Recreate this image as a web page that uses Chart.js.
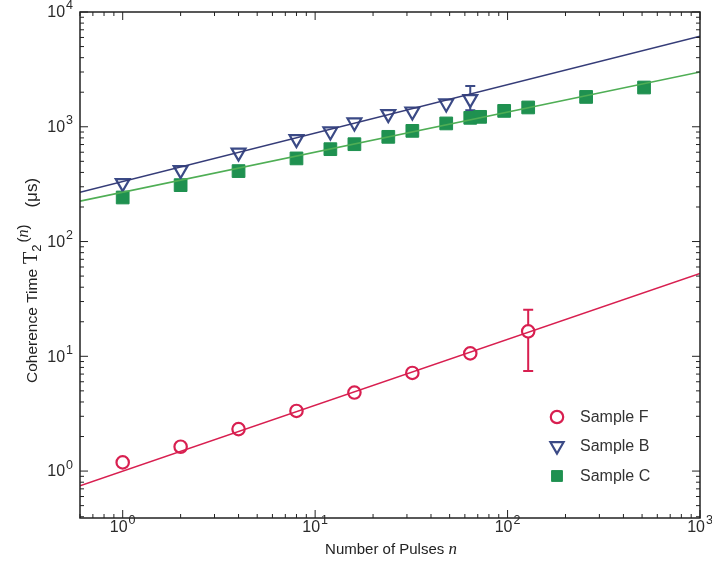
<!DOCTYPE html>
<html>
<head>
<meta charset="utf-8">
<script src="https://cdn.jsdelivr.net/npm/chart.js@4/dist/chart.umd.min.js"></script>
<style>
  html, body { margin: 0; padding: 0; background: #fff; }
  canvas { display: block; }
</style>
</head>
<body>
<canvas id="chart" width="712" height="575"></canvas>
<script>
// data
const pulsesF = [1, 2, 4, 8, 16, 32, 64, 128];
const timeF = [1.19, 1.63, 2.32, 3.34, 4.83, 7.16, 10.6, 16.5];
const errLowF = [null, null, null, null, null, null, null, 7.45];
const errHighF = [null, null, null, null, null, null, null, 25.5];

const pulsesB = [1, 2, 4, 8, 12, 16, 24, 32, 48, 64];
const timeB = [323, 419, 595, 780, 910, 1090, 1288, 1359, 1596, 1740];
const errLowB = [null, null, null, null, null, null, null, null, null, 1396];
const errHighB = [null, null, null, null, null, null, null, null, null, 2270];

const pulsesC = [1, 2, 4, 8, 12, 16, 24, 32, 48, 64, 72, 96, 128, 256, 512];
const timeC = [242, 310, 411, 530, 638, 705, 817, 921, 1069, 1196, 1220, 1375, 1473, 1820, 2198];

// fitted power laws (end points)
const fitPulses = [0.6, 1000];
const fitF = [0.745, 52.7];
const fitB = [269, 6150];
const fitC = [225, 3000];

const xRange = [0.6, 1000];
const yRange = [0.39, 10000];

const labels = ["Sample F", "Sample B", "Sample C"];

const red = "#d81f50";
const blue = "#3b4a86";
const blueLine = "#353c78";
const green = "#1f9150";
const greenLine = "#4fae55";

function pts(xs, ys) {
  return xs.map((x, i) => ({ x: x, y: ys[i] }));
}

const SANS = '"Liberation Sans", Arial, sans-serif';
const SERIF = '"Liberation Serif", "Times New Roman", serif';

// frame, inward ticks, tick labels and axis titles
const framePlugin = {
  id: "frame",
  afterDraw(chart) {
    const ctx = chart.ctx;
    const a = chart.chartArea;
    const xs = chart.scales.x, ys = chart.scales.y;
    ctx.save();
    ctx.strokeStyle = "#222";
    ctx.lineWidth = 1.5;
    ctx.strokeRect(a.left, a.top, a.right - a.left, a.bottom - a.top);

    ctx.lineWidth = 1;
    function eachTick(scale, cb) {
      for (let d = Math.floor(Math.log10(scale.min)); d <= Math.ceil(Math.log10(scale.max)); d++) {
        for (let m = 1; m <= 9; m++) {
          const v = m * Math.pow(10, d);
          if (v < scale.min * 0.999 || v > scale.max * 1.001) continue;
          cb(scale.getPixelForValue(v), m === 1, d);
        }
      }
    }
    ctx.beginPath();
    eachTick(xs, (p, major) => {
      const len = major ? 8 : 4;
      ctx.moveTo(p, a.bottom); ctx.lineTo(p, a.bottom - len);
      ctx.moveTo(p, a.top); ctx.lineTo(p, a.top + len);
    });
    eachTick(ys, (p, major) => {
      const len = major ? 8 : 4;
      ctx.moveTo(a.left, p); ctx.lineTo(a.left + len, p);
      ctx.moveTo(a.right, p); ctx.lineTo(a.right - len, p);
    });
    ctx.stroke();

    // tick labels 10^d
    ctx.fillStyle = "#2a2a2a";
    ctx.textBaseline = "middle";
    const base = "16px " + SANS, sup = "12.5px " + SANS;
    eachTick(ys, (p, major, d) => {
      if (!major) return;
      ctx.font = sup;
      const we = ctx.measureText(String(d)).width;
      ctx.font = base;
      ctx.textAlign = "right";
      ctx.fillText("10", 72 - we, p + 1);
      ctx.font = sup;
      ctx.textAlign = "left";
      ctx.fillText(String(d), 73 - we, p - 6);
    });
    eachTick(xs, (p, major, d) => {
      if (!major) return;
      ctx.font = base;
      const wb = ctx.measureText("10").width;
      ctx.font = sup;
      const we = ctx.measureText(String(d)).width;
      const x0 = p - (wb + we + 1) / 2;
      ctx.font = base;
      ctx.textAlign = "left";
      ctx.fillText("10", x0, 528);
      ctx.font = sup;
      ctx.fillText(String(d), x0 + wb + 1, 521);
    });

    // x title
    ctx.fillStyle = "#222";
    ctx.textBaseline = "alphabetic";
    ctx.textAlign = "left";
    const t1 = "Number of Pulses ";
    ctx.font = "15px " + SANS;
    const w1 = ctx.measureText(t1).width;
    ctx.font = "italic 17px " + SERIF;
    const w2 = ctx.measureText("n").width;
    let xx = 391 - (w1 + w2) / 2;
    ctx.font = "15px " + SANS;
    ctx.fillText(t1, xx, 554);
    ctx.font = "italic 17px " + SERIF;
    ctx.fillText("n", xx + w1, 554);

    // y title, drawn in pieces, starting from the bottom
    // gap = extra space before the piece
    const parts = [
      { t: "Coherence Time", f: "15.5px " + SANS, dy: 0, gap: 0 },
      { t: "T", f: "20px " + SERIF, dy: 0, gap: 5 },
      { t: "2", f: "13px " + SANS, dy: 4, gap: 0 },
      { t: "(", f: "15px " + SANS, dy: -9, gap: 2 },
      { t: "n", f: "italic 16px " + SERIF, dy: -9, gap: 0 },
      { t: ")", f: "15px " + SANS, dy: -9, gap: 0 },
      { t: "(\u03bcs)", f: "17px " + SANS, dy: 0, gap: 17 }
    ];
    parts.forEach(pt => { ctx.font = pt.f; pt.w = ctx.measureText(pt.t).width; });
    ctx.translate(37, 383);
    ctx.rotate(-Math.PI / 2);
    let px = 0;
    parts.forEach(pt => {
      ctx.font = pt.f;
      px += pt.gap;
      ctx.fillText(pt.t, px, pt.dy);
      px += pt.w;
    });
    ctx.restore();

    // legend inside the plot
    const legendMarks = [
      { ds: chart.data.datasets[3], y: 417, k: 1.0 },
      { ds: chart.data.datasets[4], y: 446, k: 0.95 },
      { ds: chart.data.datasets[5], y: 476, k: 0.85 }
    ];
    ctx.save();
    legendMarks.forEach(item => {
      const ds = item.ds;
      ctx.fillStyle = ds.pointBackgroundColor;
      ctx.strokeStyle = ds.pointBorderColor;
      ctx.lineWidth = ds.pointBorderWidth;
      Chart.helpers.drawPoint(ctx, {
        pointStyle: ds.pointStyle,
        rotation: ds.pointRotation || 0,
        radius: ds.pointRadius * item.k,
        borderWidth: ds.pointBorderWidth
      }, 557, item.y);
      ctx.fillStyle = "#333";
      ctx.font = "16px " + SANS;
      ctx.textAlign = "left";
      ctx.textBaseline = "middle";
      ctx.fillText(ds.label, 580, item.y + 1);
    });
    ctx.restore();
  },
  beforeDatasetsDraw(chart) {
    // error bars under the markers
    const ctx = chart.ctx;
    const xs = chart.scales.x, ys = chart.scales.y;
    const bars = [
      { x: pulsesF, lo: errLowF, hi: errHighF, c: red },
      { x: pulsesB, lo: errLowB, hi: errHighB, c: blue }
    ];
    ctx.save();
    ctx.lineWidth = 2;
    bars.forEach(b => {
      ctx.strokeStyle = b.c;
      b.x.forEach((x, i) => {
        if (b.lo[i] == null) return;
        const px = xs.getPixelForValue(x);
        const y1 = ys.getPixelForValue(b.lo[i]);
        const y2 = ys.getPixelForValue(b.hi[i]);
        ctx.beginPath();
        ctx.moveTo(px, y1); ctx.lineTo(px, y2);
        ctx.moveTo(px - 5, y1); ctx.lineTo(px + 5, y1);
        ctx.moveTo(px - 5, y2); ctx.lineTo(px + 5, y2);
        ctx.stroke();
      });
    });
    ctx.restore();
  }
};

new Chart(document.getElementById("chart"), {
  type: "scatter",
  data: {
    datasets: [
      { label: "fit F", data: pts(fitPulses, fitF), showLine: true, borderColor: red, borderWidth: 1.6, pointRadius: 0 },
      { label: "fit B", data: pts(fitPulses, fitB), showLine: true, borderColor: blueLine, borderWidth: 1.6, pointRadius: 0 },
      { label: "fit C", data: pts(fitPulses, fitC), showLine: true, borderColor: greenLine, borderWidth: 1.6, pointRadius: 0 },
      { label: labels[0], data: pts(pulsesF, timeF), pointStyle: "circle", pointRadius: 6.2,
        pointBackgroundColor: "#ffffff", pointBorderColor: red, pointBorderWidth: 2.2 },
      { label: labels[1], data: pts(pulsesB, timeB), pointStyle: "triangle", pointRotation: 180, pointRadius: 8,
        pointBackgroundColor: "#ffffff", pointBorderColor: blue, pointBorderWidth: 2.2 },
      { label: labels[2], data: pts(pulsesC, timeC), pointStyle: "rect", pointRadius: 9,
        pointBackgroundColor: green, pointBorderColor: green, pointBorderWidth: 1 }
    ]
  },
  options: {
    responsive: false,
    animation: false,
    layout: { padding: { top: 12, right: 12, left: 0, bottom: 0 } },
    plugins: { legend: { display: false }, tooltip: { enabled: false } },
    scales: {
      x: {
        type: "logarithmic", min: xRange[0], max: xRange[1],
        grid: { display: false }, border: { display: false },
        ticks: { display: false },
        afterFit(s) { s.height = 57; }
      },
      y: {
        type: "logarithmic", min: yRange[0], max: yRange[1],
        grid: { display: false }, border: { display: false },
        ticks: { display: false },
        afterFit(s) { s.width = 80; }
      }
    }
  },
  plugins: [framePlugin]
});
</script>
</body>
</html>
